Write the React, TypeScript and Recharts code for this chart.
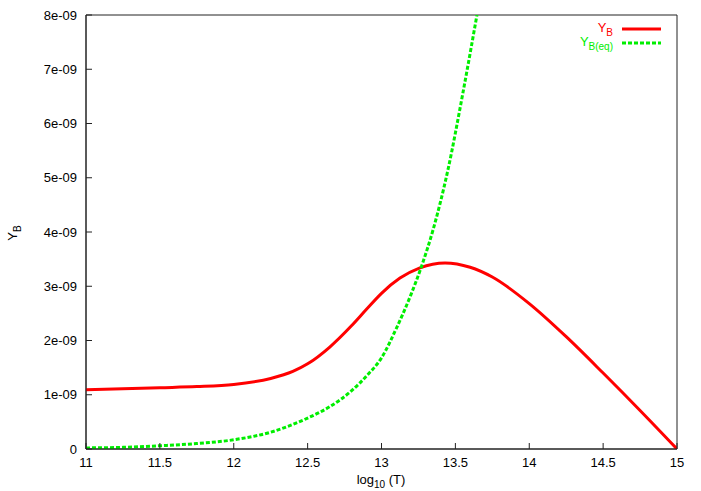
import React from 'react';
import { LineChart, Line, XAxis, YAxis, Legend, ReferenceArea } from 'recharts';

// Y_B (red, solid)
const redX = [11, 11.5, 11.75, 12, 12.25, 12.4, 12.5, 12.65, 12.8, 12.9, 13, 13.125, 13.26, 13.43, 13.6, 13.75, 14, 14.25, 14.5, 14.75, 15];
const redY = [1.09e-9, 1.13e-9, 1.15e-9, 1.19e-9, 1.3e-9, 1.43e-9, 1.57e-9, 1.88e-9, 2.28e-9, 2.58e-9, 2.87e-9, 3.15e-9, 3.34e-9, 3.43e-9, 3.35e-9, 3.17e-9, 2.68e-9, 2.07e-9, 1.4e-9, 0.71e-9, 0];

// Y_B(eq) (green, dashed)
const greenX = [11, 11.25, 11.5, 11.75, 12, 12.25, 12.5, 12.65, 12.8, 12.9, 13, 13.1, 13.2, 13.27, 13.35, 13.45, 13.55, 13.646];
const greenY = [0.02e-9, 0.03e-9, 0.06e-9, 0.1e-9, 0.17e-9, 0.31e-9, 0.57e-9, 0.78e-9, 1.08e-9, 1.35e-9, 1.68e-9, 2.22e-9, 2.85e-9, 3.36e-9, 4.05e-9, 5.15e-9, 6.55e-9, 8.0e-9];

const xTicks = [11, 11.5, 12, 12.5, 13, 13.5, 14, 14.5, 15];
const yTicks = [0, 1e-9, 2e-9, 3e-9, 4e-9, 5e-9, 6e-9, 7e-9, 8e-9];

const redData = redX.map((x, i) => ({ x, y: redY[i] }));
const greenData = greenX.map((x, i) => ({ x, y: greenY[i] }));

const FONT = '"Liberation Sans", Arial, sans-serif';
const AXIS = '#222';

const fmtY = (v: number) => (v === 0 ? '0' : `${Math.round(v * 1e9)}e-09`);

const XLabel = () => (
  <text x={381} y={484} textAnchor="middle" fontFamily={FONT} fontSize={13} fill="#000">
    log<tspan dy={4} fontSize={10}>10</tspan>
    <tspan dy={-4}> (T)</tspan>
  </text>
);

const YLabel = () => (
  <text x={17} y={233} transform="rotate(-90, 17, 233)" textAnchor="middle" fontFamily={FONT} fontSize={13} fill="#000">
    Y<tspan dy={4} fontSize={10}>B</tspan>
  </text>
);

const LegendBox = () => (
  <svg width={160} height={60} style={{ display: 'block' }}>
    <text x={73} y={32} textAnchor="end" fontFamily={FONT} fontSize={13} fill="#ff0000">
      Y<tspan dy={4} fontSize={10}>B</tspan>
    </text>
    <line x1={82} x2={121} y1={29} y2={29} stroke="#ff0000" strokeWidth={3} />
    <text x={73} y={46} textAnchor="end" fontFamily={FONT} fontSize={13} fill="#00ee00">
      Y<tspan dy={4} fontSize={10}>B(eq)</tspan>
    </text>
    <line x1={82} x2={121} y1={43} y2={43} stroke="#00ee00" strokeWidth={3} strokeDasharray="4 2" />
  </svg>
);

export default function App() {
  return (
    <div style={{ position: 'absolute', left: 0, top: 0, width: 701, height: 491, background: '#fff' }}>
      <LineChart width={701} height={491} margin={{ top: 15, right: 24, bottom: 0, left: 0 }}>
        <XAxis
          dataKey="x"
          type="number"
          domain={[11, 15]}
          ticks={xTicks}
          allowDataOverflow
          height={42}
          tickSize={-6}
          tickMargin={15}
          stroke={AXIS}
          axisLine={{ stroke: AXIS, strokeWidth: 1 }}
          tickLine={{ stroke: AXIS, strokeWidth: 1 }}
          tick={{ fontFamily: FONT, fontSize: 13, fill: '#000' }}
          label={<XLabel />}
        />
        <XAxis
          xAxisId="top"
          orientation="top"
          dataKey="x"
          type="number"
          domain={[11, 15]}
          ticks={xTicks}
          allowDataOverflow
          height={0}
          tickSize={-6}
          tickFormatter={() => ''}
          stroke={AXIS}
          axisLine={{ stroke: AXIS, strokeWidth: 1 }}
          tickLine={{ stroke: AXIS, strokeWidth: 1 }}
        />
        <YAxis
          type="number"
          domain={[0, 8e-9]}
          ticks={yTicks}
          allowDataOverflow
          width={86}
          tickSize={-6}
          tickMargin={15}
          tickFormatter={fmtY}
          stroke={AXIS}
          axisLine={{ stroke: AXIS, strokeWidth: 1 }}
          tickLine={{ stroke: AXIS, strokeWidth: 1 }}
          tick={{ fontFamily: FONT, fontSize: 13, fill: '#000' }}
          label={<YLabel />}
        />
        <YAxis
          yAxisId="right"
          orientation="right"
          type="number"
          domain={[0, 8e-9]}
          ticks={yTicks}
          allowDataOverflow
          width={0}
          tickSize={-6}
          tickFormatter={() => ''}
          stroke={AXIS}
          axisLine={{ stroke: AXIS, strokeWidth: 1 }}
          tickLine={{ stroke: AXIS, strokeWidth: 1 }}
        />
        <ReferenceArea x1={11} x2={15} y1={0} y2={8e-9} fill="none" fillOpacity={0} stroke={AXIS} strokeWidth={1} ifOverflow="visible" />
        <Legend
          layout="horizontal"
          verticalAlign="middle"
          align="center"
          wrapperStyle={{ position: 'absolute', left: 540, top: 0, width: 160, height: 60 }}
          content={() => <LegendBox />}
        />
        <Line
          data={redData}
          dataKey="y"
          type="monotone"
          stroke="#ff0000"
          strokeWidth={3}
          dot={false}
          isAnimationActive={false}
        />
        <Line
          data={greenData}
          dataKey="y"
          type="monotone"
          stroke="#00ee00"
          strokeWidth={3}
          strokeDasharray="4 2"
          dot={false}
          isAnimationActive={false}
        />
      </LineChart>
    </div>
  );
}
